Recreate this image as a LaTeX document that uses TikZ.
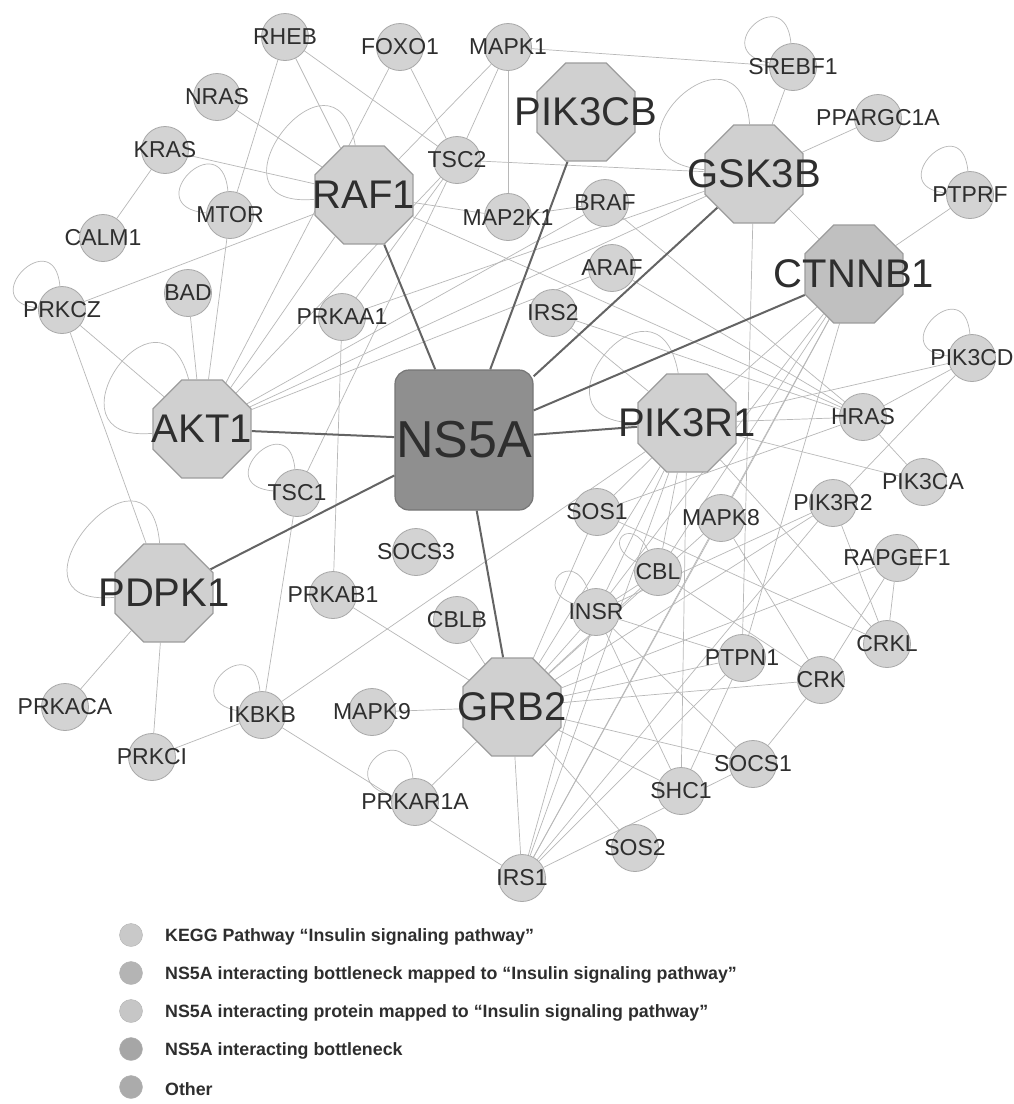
\documentclass[tikz,border=0pt]{standalone}
\usepackage{fontspec}
\setmainfont{Liberation Sans}
\usetikzlibrary{shapes.geometric}
\definecolor{edgec}{HTML}{B8B8B8}
\definecolor{darke}{HTML}{646464}
\definecolor{smfill}{HTML}{D3D3D3}
\definecolor{smdraw}{HTML}{A8A8A8}
\definecolor{ocfill}{HTML}{D0D0D0}
\definecolor{ocdraw}{HTML}{9C9C9C}
\definecolor{ctfill}{HTML}{C0C0C0}
\definecolor{nsfill}{HTML}{8F8F8F}
\definecolor{nsdraw}{HTML}{767676}
\definecolor{txt}{HTML}{2E2E2E}
\definecolor{lgA}{HTML}{C9C9C9}
\definecolor{lgB}{HTML}{B4B4B4}
\definecolor{lgC}{HTML}{C6C6C6}
\definecolor{lgD}{HTML}{A6A6A6}
\definecolor{lgE}{HTML}{ABABAB}
\pgfdeclarelayer{back}
\pgfdeclarelayer{bg}
\pgfsetlayers{back,bg,main}
\newcommand\lab[1]{\makebox[0pt]{#1}}
\tikzset{
  sm/.style={circle, minimum size=47pt, inner sep=0pt, fill=smfill, draw=smdraw, line width=0.8pt,
    font=\fontsize{23}{23}\selectfont, text=txt},
  oc/.style={regular polygon, regular polygon sides=8, minimum size=106pt, inner sep=0pt,
    fill=ocfill, draw=ocdraw, line width=1.2pt, font=\fontsize{40}{40}\selectfont, text=txt},
  hub/.style={rectangle, rounded corners=14pt, minimum width=138pt, minimum height=140pt, inner sep=0pt,
    fill=nsfill, draw=nsdraw, line width=1.2pt, font=\fontsize{52}{52}\selectfont, text=txt},
  e/.style={draw=edgec, line width=0.7pt},
  de/.style={draw=darke, line width=2pt},
  lgm/.style={circle, minimum size=23pt, inner sep=0pt, draw=white!70!black, line width=0.4pt},
  lgt/.style={anchor=west, inner sep=0pt, font=\bfseries\fontsize{17.8}{17.8}\selectfont, text=txt}
}
\begin{document}
\begin{tikzpicture}[x=1pt,y=1pt]
\begin{pgfonlayer}{back}
\fill[white] (0,0) rectangle (1013,-1104);
\end{pgfonlayer}
\useasboundingbox (0,0) rectangle (1013,-1104);

% small nodes
\node[sm] (rheb) at (285,-37) {\lab{RHEB}};
\node[sm] (nras) at (217,-97) {\lab{NRAS}};
\node[sm] (kras) at (165,-150) {\lab{KRAS}};
\node[sm] (mtor) at (230,-215) {\lab{MTOR}};
\node[sm] (calm1) at (103,-238) {\lab{CALM1}};
\node[sm] (bad) at (188,-293) {\lab{BAD}};
\node[sm] (prkcz) at (62,-310) {\lab{PRKCZ}};
\node[sm] (foxo1) at (400,-47) {\lab{FOXO1}};
\node[sm] (mapk1) at (508,-47) {\lab{MAPK1}};
\node[sm] (tsc2) at (457,-160) {\lab{TSC2}};
\node[sm] (map2k1) at (508,-217) {\lab{MAP2K1}};
\node[sm] (braf) at (605,-203) {\lab{BRAF}};
\node[sm] (araf) at (612,-268) {\lab{ARAF}};
\node[sm] (irs2) at (553,-313) {\lab{IRS2}};
\node[sm] (prkaa1) at (342,-317) {\lab{PRKAA1}};
\node[sm] (srebf1) at (793,-67) {\lab{SREBF1}};
\node[sm] (ppargc1a) at (878,-118) {\lab{PPARGC1A}};
\node[sm] (ptprf) at (970,-195) {\lab{PTPRF}};
\node[sm] (pik3cd) at (972,-358) {\lab{PIK3CD}};
\node[sm] (tsc1) at (297,-493) {\lab{TSC1}};
\node[sm] (prkab1) at (333,-595) {\lab{PRKAB1}};
\node[sm] (socs3) at (416,-552) {\lab{SOCS3}};
\node[sm] (cblb) at (457,-620) {\lab{CBLB}};
\node[sm] (sos1) at (597,-512) {\lab{SOS1}};
\node[sm] (insr) at (596,-612) {\lab{INSR}};
\node[sm] (cbl) at (658,-572) {\lab{CBL}};
\node[sm] (mapk8) at (721,-518) {\lab{MAPK8}};
\node[sm] (pik3r2) at (833,-503) {\lab{PIK3R2}};
\node[sm] (hras) at (863,-417) {\lab{HRAS}};
\node[sm] (pik3ca) at (923,-482) {\lab{PIK3CA}};
\node[sm] (rapgef1) at (897,-558) {\lab{RAPGEF1}};
\node[sm] (crkl) at (887,-644) {\lab{CRKL}};
\node[sm] (ptpn1) at (742,-658) {\lab{PTPN1}};
\node[sm] (crk) at (821,-680) {\lab{CRK}};
\node[sm] (socs1) at (753,-764) {\lab{SOCS1}};
\node[sm] (shc1) at (681,-791) {\lab{SHC1}};
\node[sm] (sos2) at (635,-848) {\lab{SOS2}};
\node[sm] (irs1) at (522,-878) {\lab{IRS1}};
\node[sm] (prkar1a) at (415,-802) {\lab{PRKAR1A}};
\node[sm] (mapk9) at (372,-712) {\lab{MAPK9}};
\node[sm] (ikbkb) at (262,-715) {\lab{IKBKB}};
\node[sm] (prkci) at (152,-757) {\lab{PRKCI}};
\node[sm] (prkaca) at (65,-707) {\lab{PRKACA}};

% octagons
\node[oc] (raf1) at (364,-195) {\lab{RAF1}};
\node[oc] (pik3cb) at (586,-112) {\lab{PIK3CB}};
\node[oc] (gsk3b) at (754,-174) {\lab{GSK3B}};
\node[oc, fill=ctfill] (ctnnb1) at (854,-274) {\lab{CTNNB1}};
\node[oc] (akt1) at (202,-429) {\lab{AKT1}};
\node[oc] (pdpk1) at (164,-593) {\lab{PDPK1}};
\node[oc] (pik3r1) at (687,-423) {\lab{PIK3R1}};
\node[oc] (grb2) at (512,-707) {\lab{GRB2}};

% hub
\node[hub] (ns5a) at (464,-440) {\lab{NS5A}};

\begin{pgfonlayer}{bg}
\foreach \a/\b in {rheb/tsc2, rheb/mtor, rheb/raf1, nras/raf1, kras/raf1, kras/calm1,
  mtor/akt1, prkcz/raf1, prkcz/akt1, prkcz/pdpk1, bad/akt1, foxo1/akt1, foxo1/tsc2,
  mapk1/raf1, mapk1/tsc2, mapk1/map2k1, mapk1/srebf1, raf1/map2k1, raf1/hras, map2k1/braf,
  tsc2/gsk3b, tsc2/prkaa1, tsc2/tsc1, tsc2/akt1, akt1/gsk3b, akt1/raf1, akt1/braf, akt1/araf,
  prkaa1/prkab1, prkaa1/gsk3b, tsc1/ikbkb, pdpk1/prkaca, pdpk1/prkci, ikbkb/prkci,
  ikbkb/pik3r1, ikbkb/irs1, prkar1a/grb2, mapk9/grb2, prkab1/grb2, cblb/grb2, grb2/irs1,
  grb2/sos2, grb2/sos1, grb2/insr, grb2/cbl, grb2/pik3r1, grb2/pik3r2, grb2/rapgef1,
  grb2/ptpn1, grb2/crk, grb2/socs1, grb2/shc1, gsk3b/srebf1, gsk3b/ppargc1a, gsk3b/ctnnb1,
  gsk3b/ptpn1, ctnnb1/ptprf, ctnnb1/pik3r1, ctnnb1/mapk8, ctnnb1/ptpn1, ctnnb1/insr,
  ctnnb1/cbl, ctnnb1/irs1, pik3cd/pik3r1, pik3cd/hras, pik3cd/pik3r2, hras/pik3ca,
  hras/pik3r1, hras/sos1, hras/braf, hras/araf, irs2/pik3r1, irs2/hras, pik3r1/pik3ca,
  pik3r1/sos1, pik3r1/insr, pik3r1/cbl, pik3r1/irs1, pik3r1/shc1, pik3r1/crkl,
  pik3r2/crkl, pik3r2/insr, pik3r2/irs1, rapgef1/crk, rapgef1/crkl, crkl/sos1, crk/socs1,
  crk/cbl, crk/mapk8, socs1/insr, socs1/irs1, shc1/insr, shc1/ptpn1, irs1/insr, irs1/ptpn1,
  irs1/mapk8, insr/cbl, insr/ptpn1, mapk8/grb2}
  \draw[e] (\a) -- (\b);
% self loops
\draw[e] (mtor) to[out=95,in=175,distance=70pt] (mtor);
\draw[e] (raf1) to[out=100,in=185,distance=120pt] (raf1);
\draw[e] (prkcz) to[out=95,in=175,distance=65pt] (prkcz);
\draw[e] (akt1) to[out=105,in=185,distance=115pt] (akt1);
\draw[e] (pdpk1) to[out=95,in=185,distance=125pt] (pdpk1);
\draw[e] (tsc1) to[out=95,in=175,distance=65pt] (tsc1);
\draw[e] (ikbkb) to[out=95,in=170,distance=65pt] (ikbkb);
\draw[e] (prkar1a) to[out=95,in=165,distance=65pt] (prkar1a);
\draw[e] (gsk3b) to[out=95,in=175,distance=120pt] (gsk3b);
\draw[e] (srebf1) to[out=95,in=170,distance=65pt] (srebf1);
\draw[e] (ptprf) to[out=95,in=175,distance=65pt] (ptprf);
\draw[e] (pik3cd) to[out=95,in=175,distance=65pt] (pik3cd);
\draw[e] (pik3r1) to[out=100,in=180,distance=120pt] (pik3r1);
\draw[e] (insr) to[out=110,in=160,distance=45pt] (insr);
\draw[e] (cbl) to[out=115,in=155,distance=40pt] (cbl);
% NS5A edges
\foreach \b in {raf1, pik3cb, gsk3b, ctnnb1, pik3r1, akt1, pdpk1, grb2}
  \draw[de] (ns5a) -- (\b);
\end{pgfonlayer}

% legend
\node[lgm, fill=lgA] (m1) at (131,-935) {};
\node[lgm, fill=lgB] (m2) at (131,-973) {};
\node[lgm, fill=lgC] (m3) at (131,-1011) {};
\node[lgm, fill=lgD] (m4) at (131,-1049) {};
\node[lgm, fill=lgE] (m5) at (131,-1087) {};
\node[lgt] (t1) at (165,-937) {KEGG Pathway “Insulin signaling pathway”};
\node[lgt] (t2) at (165,-975) {NS5A interacting bottleneck mapped to “Insulin signaling pathway”};
\node[lgt] (t3) at (165,-1013) {NS5A interacting protein mapped to “Insulin signaling pathway”};
\node[lgt] (t4) at (165,-1051) {NS5A interacting bottleneck};
\node[lgt] (t5) at (165,-1089) {Other};
\end{tikzpicture}
\end{document}
